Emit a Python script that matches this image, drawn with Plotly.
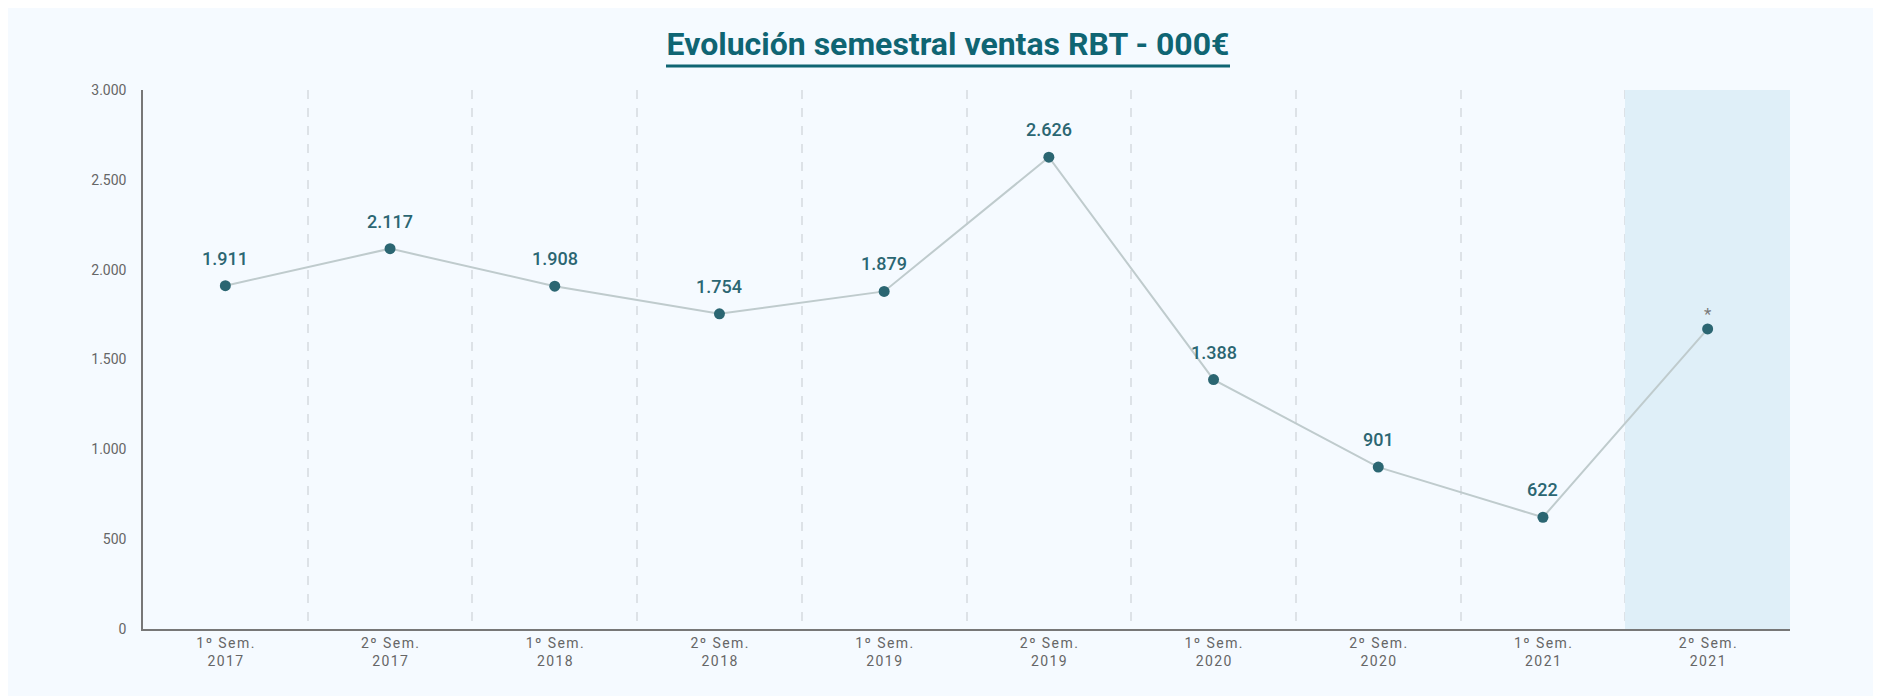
import plotly.graph_objects as go

categories = ["1º Sem.<br>2017", "2º Sem.<br>2017", "1º Sem.<br>2018", "2º Sem.<br>2018",
              "1º Sem.<br>2019", "2º Sem.<br>2019", "1º Sem.<br>2020", "2º Sem.<br>2020",
              "1º Sem.<br>2021", "2º Sem.<br>2021"]
ventas = [1911, 2117, 1908, 1754, 1879, 2626, 1388, 901, 622, 1670]
etiquetas = ["1.911", "2.117", "1.908", "1.754", "1.879", "2.626", "1.388", "901", "622", "*"]
y_ticks = [0, 500, 1000, 1500, 2000, 2500, 3000]
y_max = 3000
highlight_category = categories[-1]

W, H = 1881, 696
OFF = 8  # page body margin
ml = 143 - OFF
mt = 90 - OFF
mr = W - (1790 - OFF)
mb = H - (629 - OFF)
pw, ph = W - ml - mr, H - mt - mb

TEAL = "#2b6672"
CARD = "#f5faff"


def spaced(label):
    # emulate letter spacing of the original tick labels
    return "<br>".join("\u200a".join(part) for part in label.split("<br>"))


fig = go.Figure()

# shaded estimate period
fig.add_trace(go.Bar(x=[highlight_category], y=[y_max], width=1,
                     marker=dict(color="#dfeff8", line=dict(width=0)),
                     hoverinfo="skip", showlegend=False))

fig.add_trace(go.Scatter(x=categories, y=ventas, mode="lines+markers",
                         line=dict(color="#bfcbcd", width=2),
                         marker=dict(color=TEAL, size=11),
                         showlegend=False, hoverinfo="skip"))

for c, v, t in zip(categories, ventas, etiquetas):
    is_star = t == "*"
    fig.add_annotation(x=c, y=v, text=t, showarrow=False, yanchor="bottom",
                       yshift=3 if is_star else 15,
                       font=dict(family="Roboto", size=17 if is_star else 18,
                                 color="#7a7a7a" if is_star else TEAL,
                                 weight=400 if is_star else 500))

# title underline
uy = (ph + mt - (66 - OFF)) / ph
fig.add_shape(type="line", xref="paper", yref="paper",
              x0=(666 - OFF - ml) / pw, x1=(1230 - OFF - ml) / pw,
              y0=uy, y1=uy, line=dict(color="#0f6573", width=3))

fig.update_layout(
    width=W, height=H,
    margin=dict(l=ml, r=mr, t=mt, b=mb),
    paper_bgcolor=CARD, plot_bgcolor="rgba(0,0,0,0)",
    separators=",.",
    bargap=0,
    title=dict(text="<b>Evolución semestral ventas RBT - 000€</b>",
               x=(948 - OFF) / W, xanchor="center", y=1 - (44 - OFF) / H, yanchor="middle",
               font=dict(family="Roboto", size=32, color="#0f6573")),
    xaxis=dict(type="category", categoryorder="array", categoryarray=categories,
               tickmode="array", tickvals=categories, ticktext=[spaced(c) for c in categories],
               range=[-0.5, len(categories) - 0.5],
               tickson="boundaries", showgrid=True, gridcolor="#dde2e7",
               griddash="dash", gridwidth=1.5, ticks="", ticklen=0,
               showline=True, linecolor="#777777", linewidth=1.5,
               tickfont=dict(family="Roboto", size=14, color="#666666")),
    yaxis=dict(range=[0, y_max], tickvals=y_ticks, tickformat=",d",
               showgrid=False, zeroline=False, showline=True,
               linecolor="#777777", linewidth=1.5, ticks="", ticklabelstandoff=12,
               tickfont=dict(family="Roboto", size=14, color="#666666")),
)

fig.write_html("out.html")
